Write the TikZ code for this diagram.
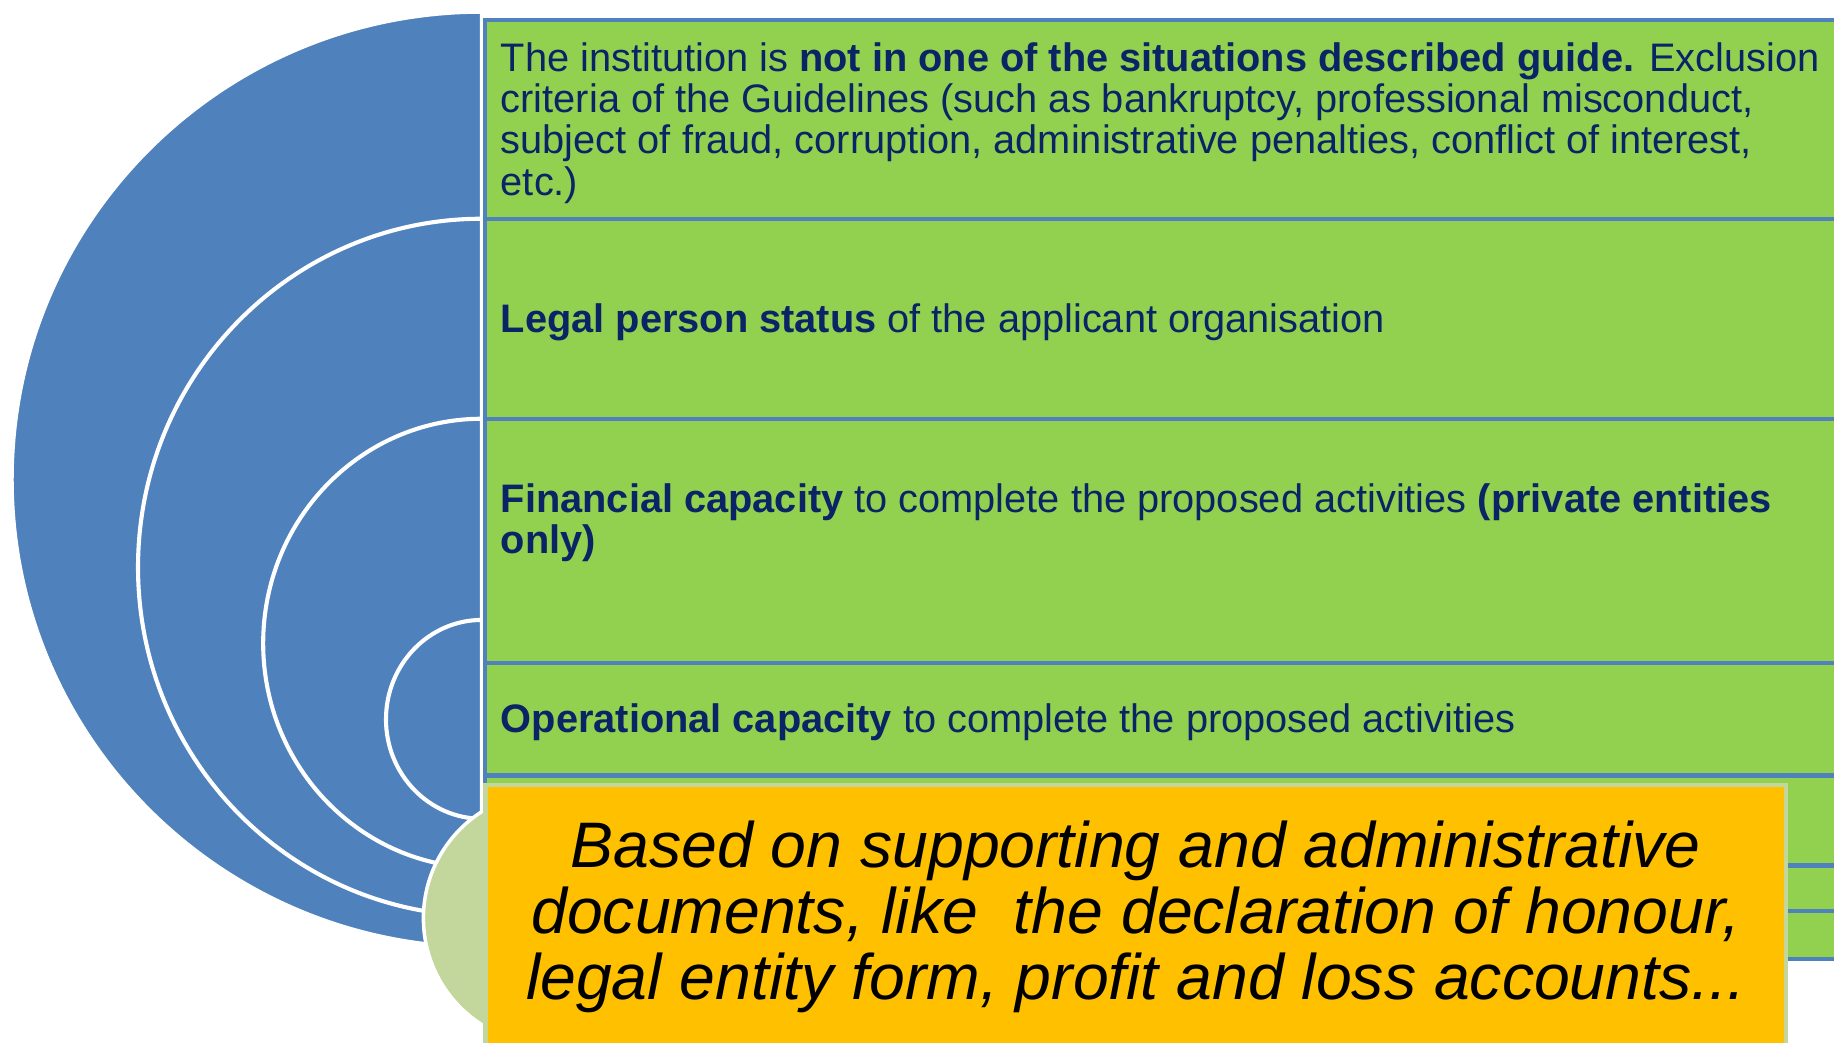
\documentclass[tikz,border=0pt]{standalone}
\usepackage{fontspec}
\setmainfont{Liberation Sans}
\definecolor{arcblue}{HTML}{4F81BD}
\definecolor{boxgreen}{HTML}{92D050}
\definecolor{navy}{HTML}{0B2465}
\definecolor{orng}{HTML}{FFC000}
\definecolor{lgreen}{HTML}{C3D69B}
\begin{document}
\begin{tikzpicture}[x=1pt,y=-1pt,
  arcshape/.style={fill=arcblue,draw=white,line width=3.5pt},
  gbox/.style={fill=boxgreen,draw=arcblue,line width=3.5pt},
  btext/.style={text=navy,font=\fontsize{34}{35.3}\selectfont,inner sep=0pt,align=left},
  notebox/.style={fill=orng,draw=lgreen,line width=4pt},
]
\useasboundingbox (0,0) rectangle (1568,891);
\clip (0,0) rectangle (1568,891);
% nested half ellipses
\path[arcshape] (412,10) arc[start angle=270,end angle=90,x radius=402,y radius=400] -- cycle;
\path[arcshape] (412,187) arc[start angle=270,end angle=90,x radius=294,y radius=298] -- cycle;
\path[arcshape] (412,358) arc[start angle=270,end angle=90,x radius=187,y radius=192] -- cycle;
\path[arcshape] (412,530) arc[start angle=270,end angle=90,x radius=82,y radius=85] -- cycle;
% light green circle
\node[circle,fill=lgreen,draw=white,line width=3pt,minimum size=216pt,inner sep=0pt] (circ) at (470,785) {};
% green boxes
\path[gbox] (415,17) rectangle (1620,187);
\path[gbox] (415,187) rectangle (1620,358);
\path[gbox] (415,358) rectangle (1620,567);
\path[gbox] (415,567) rectangle (1620,663);
\path[gbox] (415,663) rectangle (1620,740);
\path[gbox] (415,740) rectangle (1620,779);
\path[gbox] (415,779) rectangle (1620,820);
% texts
\node[btext,anchor=north west] (t1) at (428,36) {The institution is \textbf{not in one of the situations described guide.} Exclusion\\
criteria of the Guidelines (such as bankruptcy, professional misconduct,\\
subject of fraud, corruption, administrative penalties, conflict of interest,\\
etc.)};
\node[btext,anchor=base west] (t2) at (428,284) {\textbf{Legal person status} of the applicant organisation};
\node[btext,anchor=north west] (t3) at (428,413) {\textbf{Financial capacity} to complete the proposed activities \textbf{(private entities}\\
\textbf{only)}};
\node[btext,anchor=base west] (t4) at (428,626) {\textbf{Operational capacity} to complete the proposed activities};
% orange note
\path[notebox] (415,671) rectangle (1527,920);
\node[font=\fontsize{55}{56.5}\selectfont\itshape,align=center,inner sep=0pt] (note) at (971,784) {Based on supporting and administrative\\
documents, like\ \ the declaration of honour,\\
legal entity form, profit and loss accounts...};
\end{tikzpicture}
\end{document}
